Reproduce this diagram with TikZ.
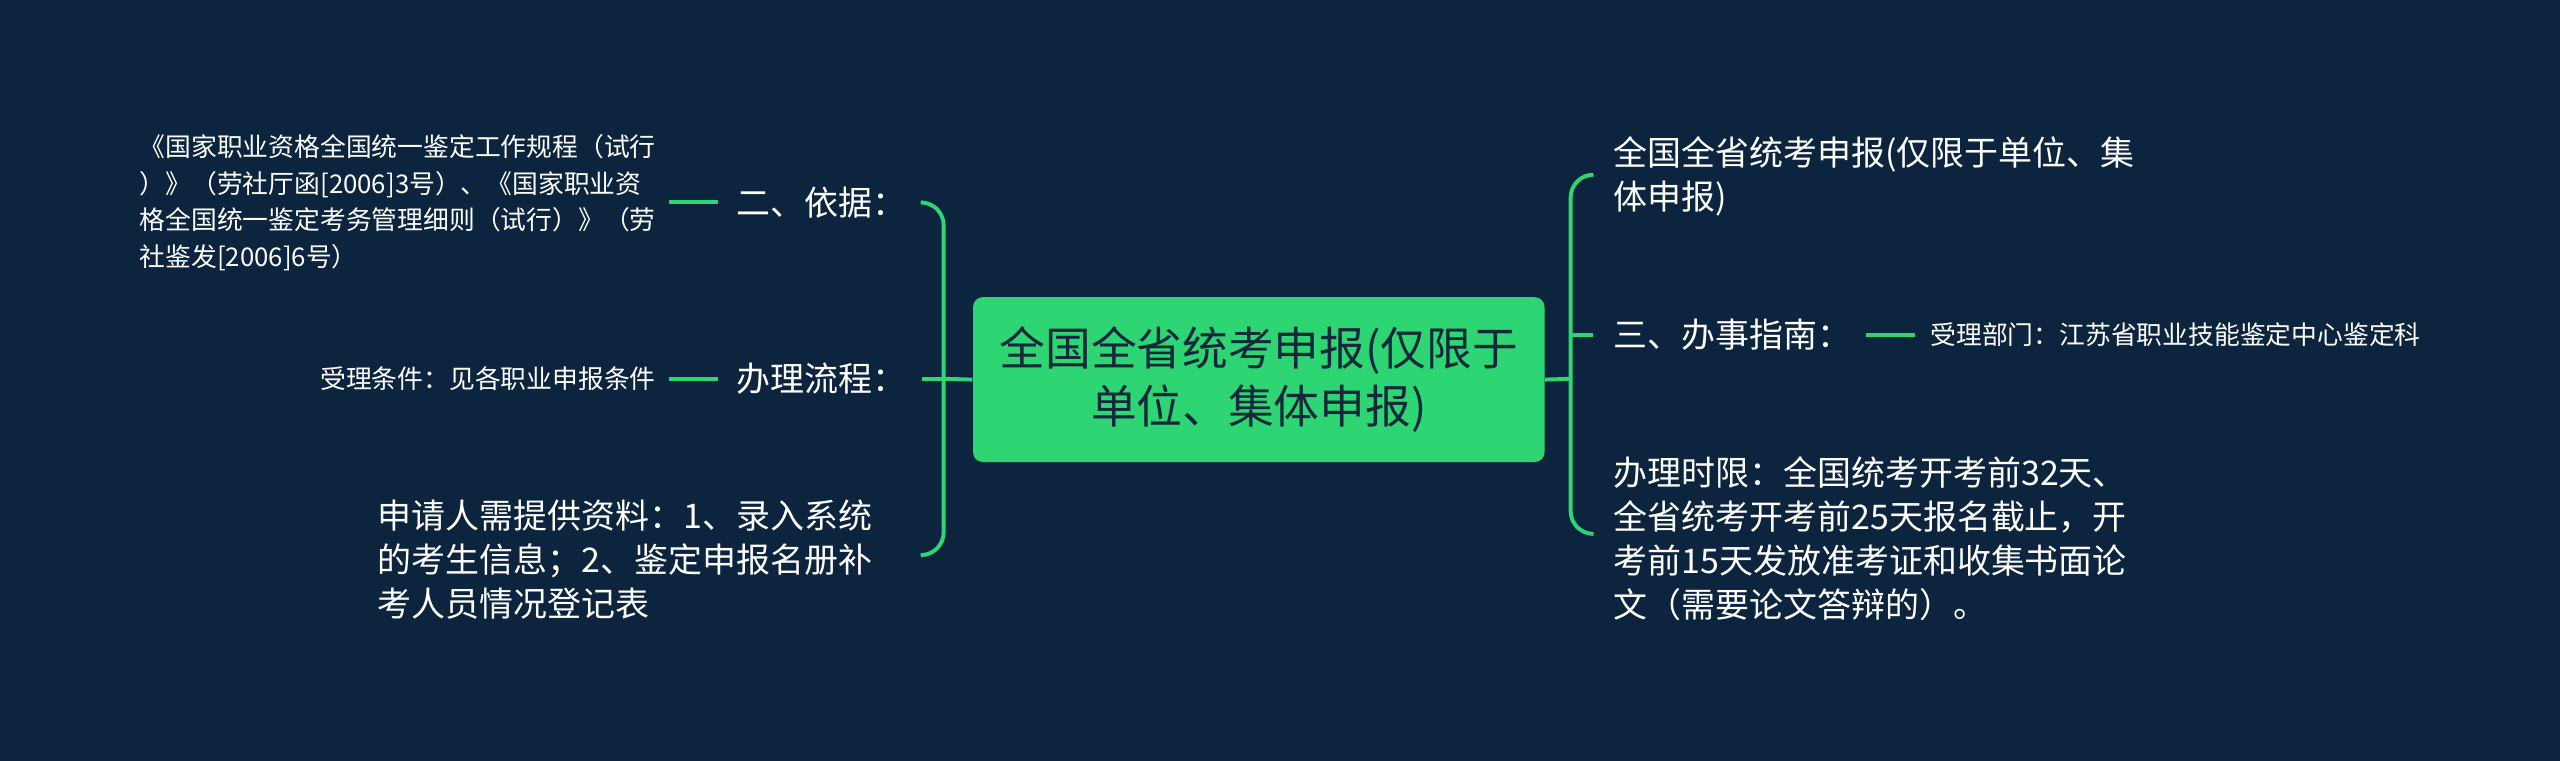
\documentclass[tikz,border=0pt]{standalone}
\usepackage{fontspec}
\setmainfont{Noto Sans CJK SC}
\begin{document}
\begin{tikzpicture}[x=0.5pt,y=-0.5pt,
  ln/.style={draw={rgb,255:red,46;green,213;blue,115}, line width=1.2pt},
  med/.style={text=white, font=\fontsize{10.4}{13.5}\selectfont, inner sep=0pt, align=left},
  sml/.style={text=white, font=\fontsize{7.9}{11.2}\selectfont, inner sep=0pt, align=left}]
\definecolor{bg}{RGB}{12,36,62}
\definecolor{gr}{RGB}{46,213,115}
\fill[bg] (0,0) rectangle (1568,466);
\useasboundingbox (0,0) rectangle (1568,466);
\node[fill=gr, rounded corners=3pt, minimum width=175pt, minimum height=50.5pt, align=center,
  font=\fontsize{14}{18}\selectfont, text={rgb,255:red,20;green,40;blue,60}] (c) at (771,232.5) {全国全省统考申报(仅限于\\单位、集体申报)};
% left
\node[med, anchor=west] (l1) at (451,124) {二、依据：};
\node[med, anchor=west] (l2) at (451,232) {办理流程：};
\node[med, anchor=west] (l3) at (231,343) {申请人需提供资料：1、录入系统\\的考生信息；2、鉴定申报名册补\\考人员情况登记表};
\node[sml, anchor=east] (s1) at (402,124) {《国家职业资格全国统一鉴定工作规程（试行\\）》（劳社厅函[2006]3号）、《国家职业资\\格全国统一鉴定考务管理细则（试行）》（劳\\社鉴发[2006]6号）};
\node[sml, anchor=east] (s2) at (402,232) {受理条件：见各职业申报条件};
\coordinate (lb) at (578,232);
\draw[ln] (c.west) -- (lb);
\draw[ln, rounded corners=7pt] (565,124) -- (578,124) -- (578,340) -- (565,340);
\draw[ln] (lb) -- (565,232);
\draw[ln] (410,124) -- (440,124);
\draw[ln] (410,232) -- (440,232);
% right
\node[med, anchor=west] (r1) at (988,108) {全国全省统考申报(仅限于单位、集\\体申报)};
\node[med, anchor=west] (r2) at (988,205) {三、办事指南：};
\node[med, anchor=west] (r3) at (988,330) {办理时限：全国统考开考前32天、\\全省统考开考前25天报名截止，开\\考前15天发放准考证和收集书面论\\文（需要论文答辩的）。};
\node[sml, anchor=west] (s3) at (1182,205) {受理部门：江苏省职业技能鉴定中心鉴定科};
\draw[ln] (c.east) -- (962,232);
\draw[ln, rounded corners=7pt] (976,107) -- (962,107) -- (962,327) -- (976,327);
\draw[ln] (962,205) -- (976,205);
\draw[ln] (1143,205) -- (1173,205);
\end{tikzpicture}
\end{document}
